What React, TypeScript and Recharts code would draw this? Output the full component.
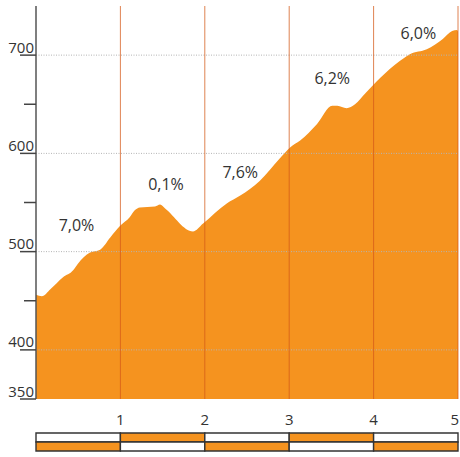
import {
  AreaChart,
  Area,
  BarChart,
  Bar,
  Cell,
  XAxis,
  YAxis,
  ReferenceLine,
  ReferenceDot,
} from "recharts";

// distance (km) and elevation (m) along the route
const DISTANCE = [
  0, 0.07, 0.17, 0.32, 0.44, 0.49, 0.64, 0.76, 0.88, 1.0, 1.11, 1.17, 1.23,
  1.41, 1.47, 1.53, 1.86, 1.98, 2.26, 2.42, 2.65, 2.89, 3.01, 3.13, 3.33, 3.51,
  3.57, 3.68, 3.78, 3.9, 4.08, 4.31, 4.43, 4.63, 4.82, 4.93, 4.99, 5.0,
];
const ELEVATION = [
  456, 454.6, 461.7, 474, 481, 487, 499, 502, 514.5, 526.6, 535, 542, 545, 546,
  548, 544, 520.6, 528.7, 549, 557, 572, 595, 606, 613, 630, 648.5, 648.5, 646,
  650, 661, 677, 694, 701, 706, 716.5, 724.6, 725.6, 724,
];

// gradient labels per km
const GRADE_LABELS = ["7,0%", "0,1%", "7,6%", "6,2%", "6,0%"];
const GRADE_KM = [0.48, 1.54, 2.42, 3.51, 4.53];
const GRADE_ELEV = [527, 569, 581, 676, 722];

const KM_TICKS = [1, 2, 3, 4, 5];
const SCALE_TICKS = [0, 1, 2, 3, 4, 5];
const Y_TICKS = [350, 400, 450, 500, 550, 600, 650, 700];
const GRID_LINES = [400, 500, 600, 700];
const SEGMENTS = [1, 1, 1, 1, 1];

const ORANGE = "#f5931f";
const TEXT = "#333";
const FONT = "'Open Sans', sans-serif";
const AXIS_X = 36;

const data = DISTANCE.map((km, i) => ({ km, elev: ELEVATION[i] }));

const scaleRows = ["upper", "lower"].map((row) => {
  const r: Record<string, any> = { row };
  SEGMENTS.forEach((v, i) => (r[`s${i}`] = v));
  return r;
});

function YTick(props: any) {
  const { y, payload } = props;
  const labeled = payload.value % 100 === 0 || payload.value === 350;
  return (
    <g>
      <line
        x1={labeled ? 20 : 24}
        x2={AXIS_X}
        y1={y}
        y2={y}
        stroke="#444"
        strokeWidth={1.5}
      />
      {labeled && (
        <text
          x={AXIS_X - 2}
          y={y - 2.5}
          textAnchor="end"
          fontSize={15}
          fontFamily={FONT}
          fill={TEXT}
        >
          {payload.value}
        </text>
      )}
    </g>
  );
}

function XTick(props: any) {
  const { x, y, payload } = props;
  const last = payload.value === KM_TICKS[KM_TICKS.length - 1];
  return (
    <text
      x={last ? x + 1 : x}
      y={y + 18}
      textAnchor={last ? "end" : "middle"}
      fontSize={15}
      fontFamily={FONT}
      fill={TEXT}
    >
      {payload.value}
    </text>
  );
}

export default function App() {
  return (
    <div style={{ position: "absolute", left: 0, top: 0, width: 460, height: 457 }}>
      <AreaChart
        width={460}
        height={430}
        data={data}
        margin={{ top: 6, right: 2, bottom: 0, left: 0 }}
      >
        <XAxis
          dataKey="km"
          type="number"
          domain={[0, 5]}
          ticks={KM_TICKS}
          axisLine={false}
          tickLine={false}
          tick={<XTick />}
          height={31}
          interval={0}
        />
        <YAxis
          domain={[350, 750]}
          ticks={Y_TICKS}
          width={36}
          interval={0}
          axisLine={{ stroke: "#555", strokeWidth: 1.5 }}
          tickLine={false}
          tick={<YTick />}
        />
        <Area
          type="monotone"
          dataKey="elev"
          stroke="none"
          fill={ORANGE}
          fillOpacity={1}
          isAnimationActive={false}
        />
        {GRID_LINES.map((v) => (
          <ReferenceLine
            key={`g${v}`}
            y={v}
            stroke="#b4b4b4"
            strokeDasharray="1 1.5"
          />
        ))}
        {KM_TICKS.map((v) => (
          <ReferenceLine
            key={`k${v}`}
            x={v}
            stroke="#d45a18"
            strokeOpacity={0.75}
          />
        ))}
        {GRADE_LABELS.map((label, i) => (
          <ReferenceDot
            key={label}
            x={GRADE_KM[i]}
            y={GRADE_ELEV[i]}
            r={0}
            fill="none"
            stroke="none"
            label={{
              value: label,
              position: "center",
              fill: TEXT,
              fontSize: 16,
              fontFamily: FONT,
            }}
          />
        ))}
      </AreaChart>

      <div style={{ position: "absolute", left: 0, top: 428 }}>
        <BarChart
          width={460}
          height={30}
          layout="vertical"
          data={scaleRows}
          barCategoryGap={0}
          margin={{ top: 2, right: 2, bottom: 0, left: AXIS_X }}
        >
          <XAxis
            type="number"
            domain={[0, 5]}
            ticks={SCALE_TICKS}
            interval={0}
            axisLine={false}
            tickLine={{ stroke: "#333", strokeWidth: 1.2 }}
            tickSize={5}
            tick={false}
            height={7}
          />
          <XAxis
            xAxisId="top"
            orientation="top"
            type="number"
            domain={[0, 5]}
            ticks={SCALE_TICKS}
            interval={0}
            axisLine={false}
            tickLine={{ stroke: "#333", strokeWidth: 1.2 }}
            tickSize={3}
            tick={false}
            height={3}
          />
          <YAxis type="category" dataKey="row" hide />
          {SEGMENTS.map((_, i) => (
            <Bar
              key={i}
              dataKey={`s${i}`}
              stackId="a"
              stroke="#333"
              strokeWidth={1.4}
              isAnimationActive={false}
            >
              {scaleRows.map((r, j) => (
                <Cell
                  key={r.row}
                  fill={(i + j) % 2 === 1 ? ORANGE : "#fff"}
                />
              ))}
            </Bar>
          ))}
        </BarChart>
      </div>
    </div>
  );
}
